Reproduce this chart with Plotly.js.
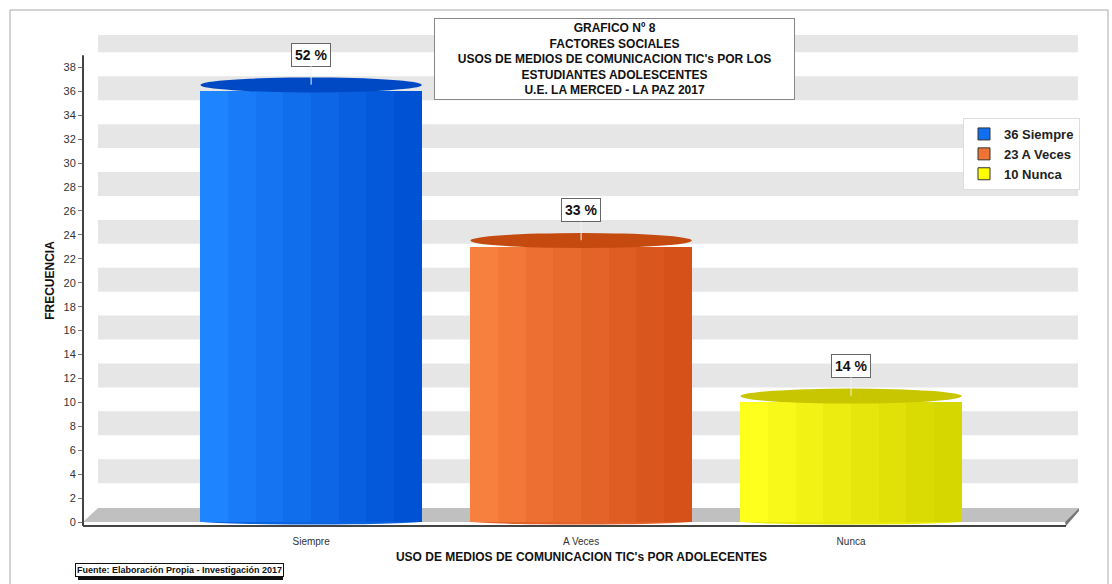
<!DOCTYPE html>
<html>
<head>
<meta charset="utf-8">
<script src="https://cdn.plot.ly/plotly-3.0.1.min.js"></script>
<style>
html,body{margin:0;padding:0;background:#fff;}
#chart{width:1112px;height:584px;}
</style>
</head>
<body>
<div id="chart"></div>
<script>
// ---- data ----
const categories = ['Siempre', 'A Veces', 'Nunca'];
const values = [36, 23, 10];
const percentLabels = ['52 %', '33 %', '14 %'];
const yTickVals = [0, 2, 4, 6, 8, 10, 12, 14, 16, 18, 20, 22, 24, 26, 28, 30, 32, 34, 36, 38];
const bandCenters = [4, 8, 12, 16, 20, 24, 28, 32, 36, 40];
const titleLines = ['GRAFICO N\u00ba 8', 'FACTORES SOCIALES', "USOS DE MEDIOS DE COMUNICACION TIC's POR LOS", 'ESTUDIANTES ADOLESCENTES', 'U.E. LA MERCED - LA PAZ 2017'];
const xTitle = "USO DE MEDIOS DE COMUNICACION TIC's POR ADOLECENTES";
const yTitle = 'FRECUENCIA';
const sourceNote = 'Fuente: Elaboraci\u00f3n Propia - Investigaci\u00f3n 2017';

// ---- style ----
const leftColors = [[30, 132, 255], [248, 128, 62], [255, 255, 30]];
const rightColors = [[0, 82, 212], [214, 80, 26], [214, 214, 0]];
const legendColors = ['#0f6ff0', '#ef7434', '#ffff00'];
const capColors = ['#0049c4', '#c44a10', '#c8c600'];
const midColors = ['#0a64e0', '#e2622a', '#eaea08'];
const barW = 0.82;
const N = 8;

const L = 83, R = 1080, T = 35, B = 526;
const px = x => (x - L) / (R - L);
const py = y => (B - y) / (B - T);

function mix(a, b, t) {
  return 'rgb(' + a.map((v, i) => Math.round(v + (b[i] - v) * t)).join(',') + ')';
}

const traces = [];
// legend entries
categories.forEach((c, i) => {
  traces.push({
    type: 'bar', x: [c], y: [null], name: values[i] + ' ' + c,
    marker: {color: legendColors[i], line: {color: '#333', width: 1}},
    hoverinfo: 'skip', showlegend: true
  });
});
// cylinder stripes
for (let s = 0; s < N; s++) {
  const t = s / (N - 1);
  traces.push({
    type: 'bar', x: categories, y: values,
    width: barW / N + 0.002, offset: -barW / 2 + s * barW / N,
    marker: {color: categories.map((c, i) => mix(leftColors[i], rightColors[i], Math.pow(t, 0.9))), line: {width: 0}},
    showlegend: false, hoverinfo: 'x+y'
  });
}

const shapes = [];
// outer frame
shapes.push({type: 'rect', xref: 'paper', yref: 'paper', x0: px(10), x1: px(1108), y0: py(600), y1: py(10), line: {color: '#aaa', width: 1}, layer: 'below'});
// background bands
bandCenters.forEach(v => {
  shapes.push({type: 'rect', xref: 'paper', yref: 'y', x0: px(98), x1: px(1078), y0: v - 0.75, y1: v + 1.25, fillcolor: '#e6e6e6', line: {width: 0}, layer: 'below'});
});
// floor
shapes.push({type: 'path', xref: 'paper', yref: 'paper',
  path: `M ${px(83)} ${py(522)} L ${px(98)} ${py(508)} L ${px(1079)} ${py(508)} L ${px(1065)} ${py(522)} Z`,
  fillcolor: '#c0c0c0', line: {width: 0}, layer: 'below'});
shapes.push({type: 'path', xref: 'paper', yref: 'paper',
  path: `M ${px(1065)} ${py(522)} L ${px(1079)} ${py(508)} L ${px(1079)} ${py(511)} L ${px(1066)} ${py(526)} Z`,
  fillcolor: '#777', line: {width: 0}, layer: 'below'});
// bottom ellipses
categories.forEach((c, i) => {
  shapes.push({type: 'circle', xref: 'x', yref: 'y', x0: i - barW / 2, x1: i + barW / 2, y0: -0.2, y1: 0.3, fillcolor: midColors[i], line: {width: 0}, layer: 'below'});
});
// top caps
categories.forEach((c, i) => {
  shapes.push({type: 'circle', xref: 'x', yref: 'y', x0: i - barW / 2, x1: i + barW / 2, y0: values[i] - 0.1, y1: values[i] + 1.15, fillcolor: capColors[i], line: {width: 0}});
});
// axis lines
shapes.push({type: 'line', xref: 'paper', yref: 'paper', x0: px(83), x1: px(1066), y0: py(526), y1: py(526), line: {color: '#444', width: 2}});
shapes.push({type: 'line', xref: 'paper', yref: 'y', x0: 0, x1: 0, y0: -0.33, y1: 39, line: {color: '#444', width: 2}});
// source note shadow
shapes.push({type: 'rect', xref: 'paper', yref: 'paper', x0: px(78), x1: px(283), y0: py(580), y1: py(566), fillcolor: '#111', line: {width: 0}});

const annotations = [];
categories.forEach((c, i) => {
  annotations.push({
    x: c, y: values[i] + 0.55, xref: 'x', yref: 'y', text: percentLabels[i],
    showarrow: true, arrowhead: 0, arrowwidth: 1, arrowcolor: '#f0f0f0', ax: 0, ay: -30,
    bgcolor: '#fff', bordercolor: '#666', borderwidth: 1, borderpad: 3,
    font: {family: 'Liberation Sans, Arial', size: 14, color: '#111', weight: 'bold'}
  });
});
annotations.push({
  xref: 'paper', yref: 'paper', x: px(614), y: py(18), xanchor: 'center', yanchor: 'top',
  text: titleLines.join('<br>'), showarrow: false, width: 355, borderpad: 2,
  bgcolor: '#fff', bordercolor: '#888', borderwidth: 1,
  font: {family: 'Liberation Sans, Arial', size: 12, color: '#111', weight: 'bold'}
});
annotations.push({
  xref: 'paper', yref: 'paper', x: px(75), y: py(570), xanchor: 'left', yanchor: 'middle',
  text: sourceNote, showarrow: false, bgcolor: '#fff', bordercolor: '#111', borderwidth: 1, borderpad: 1,
  font: {family: 'Liberation Sans, Arial', size: 9, color: '#111', weight: 'bold'}
});

const layout = {
  width: 1112, height: 584,
  margin: {l: L, r: 1112 - R, t: T, b: 584 - B, pad: 0},
  paper_bgcolor: '#fff', plot_bgcolor: 'rgba(0,0,0,0)',
  barmode: 'overlay', bargap: 0,
  showlegend: true,
  legend: {
    x: px(963), y: py(118), xanchor: 'left', yanchor: 'top',
    bgcolor: '#fff', bordercolor: '#ddd', borderwidth: 1,
    font: {family: 'Liberation Sans, Arial', size: 13, color: '#222', weight: 'bold'},
    tracegroupgap: 0, itemwidth: 30
  },
  xaxis: {
    type: 'category', range: [-0.845, 2.848], showgrid: false, zeroline: false, showline: false,
    ticks: '', ticklabelstandoff: 8,
    tickfont: {family: 'Liberation Sans, Arial', size: 10, color: '#333'},
    title: {text: xTitle, standoff: 6, font: {family: 'Liberation Sans, Arial', size: 12, color: '#111', weight: 'bold'}},
    fixedrange: true
  },
  yaxis: {
    range: [-0.33, 40.7], tickvals: yTickVals, ticktext: yTickVals.map(String),
    showgrid: false, zeroline: false, showline: false,
    ticks: 'outside', ticklen: 4, tickcolor: '#777',
    tickfont: {family: 'Liberation Sans, Arial', size: 11, color: '#333'},
    title: {text: yTitle, standoff: 6, font: {family: 'Liberation Sans, Arial', size: 12, color: '#111', weight: 'bold'}},
    fixedrange: true
  },
  shapes: shapes,
  annotations: annotations
};

Plotly.newPlot('chart', traces, layout, {displayModeBar: false, staticPlot: true});
</script>
</body>
</html>
